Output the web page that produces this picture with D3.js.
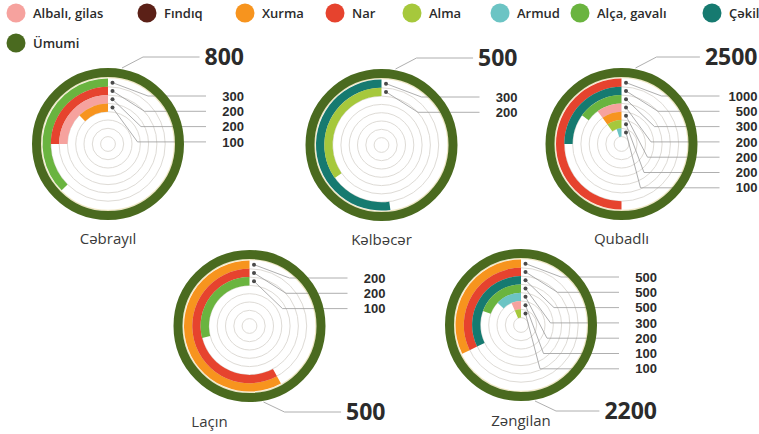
<!DOCTYPE html>
<meta charset="utf-8">
<style>
body { margin: 0; background: #fff; }
text { font-family: "Open Sans", sans-serif; fill: #2b2b2b; }
.legend text { font-size: 13px; font-weight: 600; }
.val { font-family: "Liberation Sans", sans-serif; font-size: 13px; font-weight: 700; }
.total { font-size: 23px; font-weight: 700; }
.name { font-size: 15px; font-weight: 400; fill: #3a3a3a; }
.grid { fill: none; stroke: #dedbd6; stroke-width: 1; }
.leader { fill: none; stroke: #9a9a9a; stroke-width: 0.8; }
</style>
<body>
<script src="https://cdn.jsdelivr.net/npm/d3@7"></script>
<script>

// data
var regions = ["Cəbrayıl", "Kəlbəcər", "Qubadlı", "Laçın", "Zəngilan"];
var totals = [800, 500, 2500, 500, 2200];
var legendNames = ["Albalı, gilas", "Fındıq", "Xurma", "Nar", "Alma", "Armud", "Alça, gavalı", "Çəkil", "Ümumi"];
var legendColors = ["#f6a29e", "#5b2017", "#f7941e", "#e6432e", "#a6c83c", "#6cc4c4", "#6ab43f", "#167a70", "#4a6a1f"];

// crops of each region, outer ring first
var cropsByRegion = [
  ["Alça, gavalı", "Nar", "Albalı, gilas", "Xurma"],
  ["Çəkil", "Alma"],
  ["Nar", "Çəkil", "Alça, gavalı", "Albalı, gilas", "Xurma", "Alma", "Armud"],
  ["Xurma", "Nar", "Alça, gavalı"],
  ["Xurma", "Nar", "Çəkil", "Alça, gavalı", "Armud", "Albalı, gilas", "Alma"]
];
var valuesByRegion = [
  [300, 200, 200, 100],
  [300, 200],
  [1000, 500, 300, 200, 200, 200, 100],
  [200, 200, 100],
  [500, 500, 500, 300, 200, 100, 100]
];
// value that closes a full turn in each panel (arcs in the picture are not drawn against the total)
var fullTurn = [800, 575, 2000, 345, 1550];

// layout
var panels = [
  {cx: 108, cy: 144, top: true, nameDx: 0},
  {cx: 381.5, cy: 145, top: true, nameDx: 0},
  {cx: 621.5, cy: 144, top: true, nameDx: 0},
  {cx: 249.5, cy: 326, top: false, nameDx: -40},
  {cx: 521, cy: 325, top: false, nameDx: 0}
];
var legendX = [16, 147, 245, 335, 412, 500, 580, 712, 16],
    legendY = [13, 13, 13, 13, 13, 13, 13, 13, 43];

var color = d3.scaleOrdinal().domain(legendNames).range(legendColors);

var ringR = 71.5, ringW = 9, barOuter = 65.5, barW = 8.3;

var svg = d3.select("body").append("svg")
    .attr("width", 759)
    .attr("height", 434);

// legend
var lg = svg.append("g").attr("class", "legend")
  .selectAll("g")
  .data(legendNames)
  .enter().append("g")
    .attr("transform", function(d, i) { return "translate(" + legendX[i] + "," + legendY[i] + ")"; });
lg.append("circle").attr("r", 9.5).attr("fill", function(d) { return color(d); });
lg.append("text").attr("x", 17).attr("dy", "0.35em").text(function(d) { return d; });

var arc = d3.arc();

panels.forEach(function(p, k) {
  var crops = cropsByRegion[k], vals = valuesByRegion[k];
  var angle = d3.scaleLinear().domain([0, fullTurn[k]]).range([0, 2 * Math.PI]);
  var g = svg.append("g").attr("transform", "translate(" + p.cx + "," + p.cy + ")");

  // grid rings
  g.selectAll(".grid")
    .data(d3.range(1, 8))
    .enter().append("circle")
      .attr("class", "grid")
      .attr("r", function(d) { return barOuter - barW * d; });

  g.append("circle").attr("r", barOuter + 1).attr("fill", "none")
    .attr("stroke", "#efe7c4").attr("stroke-width", 1.3);

  // bars, counter-clockwise from 12 o'clock
  g.selectAll(".bar")
    .data(vals)
    .enter().append("path")
      .attr("class", "bar")
      .attr("fill", function(d, i) { return color(crops[i]); })
      .attr("d", function(d, i) {
        return arc({
          innerRadius: barOuter - barW * (i + 1),
          outerRadius: barOuter - barW * i,
          startAngle: -angle(d),
          endAngle: 0
        });
      });

  // leader lines to the value labels
  var labelY = function(i) { return -48 + 15.3 * i; };
  var dotY = function(i) { return -(barOuter - barW * i - barW / 2); };
  g.selectAll(".leader")
    .data(vals)
    .enter().append("polyline")
      .attr("class", "leader")
      .attr("points", function(d, i) {
        return [[4.5, dotY(i)], [40 - 3.5 * i, labelY(i)], [98, labelY(i)]].join(" ");
      });

  // total ring
  g.append("circle").attr("class", "ring").attr("r", ringR).attr("fill", "none")
    .attr("stroke", color("Ümumi")).attr("stroke-width", ringW);

  g.selectAll(".dot")
    .data(vals)
    .enter().append("circle")
      .attr("cx", 4.5)
      .attr("cy", function(d, i) { return dotY(i); })
      .attr("r", 2)
      .attr("fill", "#4a4a4a");

  g.selectAll(".val")
    .data(vals)
    .enter().append("text")
      .attr("class", "val")
      .attr("x", 136)
      .attr("y", function(d, i) { return labelY(i); })
      .attr("dy", "0.36em")
      .attr("text-anchor", "end")
      .text(function(d) { return d; });

  // total label
  var ty = p.top ? -87 : 86;
  var t = g.append("text")
      .attr("class", "total")
      .attr("x", 136)
      .attr("y", ty)
      .attr("dy", "0.36em")
      .attr("text-anchor", "end")
      .text(totals[k]);
  var left = t.node().getBBox().x;
  var sy = p.top ? -1 : 1;
  g.insert("polyline", ".ring")
    .attr("class", "leader")
    .attr("points", [[14, sy * 76], [35, ty], [left - 5, ty]].join(" "));

  g.append("text")
      .attr("class", "name")
      .attr("x", p.nameDx)
      .attr("y", p.top ? 95 : 96)
      .attr("dy", "0.36em")
      .attr("text-anchor", "middle")
      .text(regions[k]);
});

</script>
</body>
